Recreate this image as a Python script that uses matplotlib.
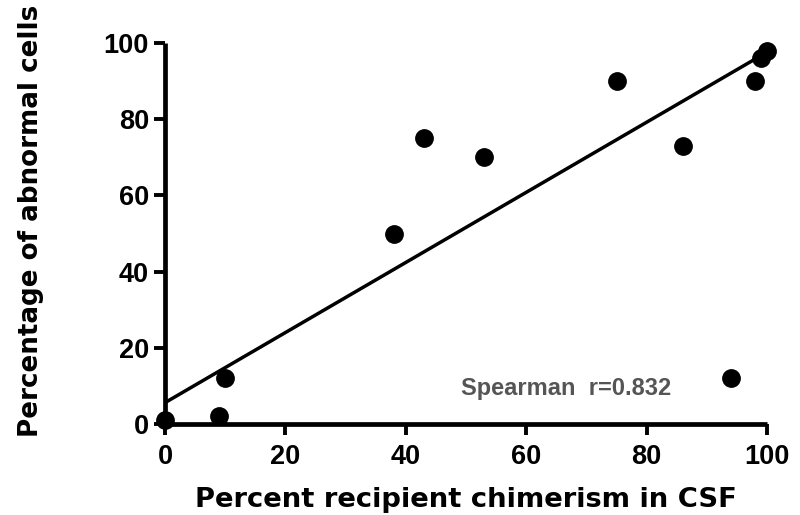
import matplotlib
matplotlib.use("Agg")
import matplotlib.pyplot as plt
import numpy as np

chimerism = [0, 9, 10, 38, 43, 53, 75, 86, 94, 98, 99, 100]
abnormal = [1, 2, 12, 50, 75, 70, 90, 73, 12, 90, 96, 98]
fit_intercept = 5.6
fit_slope = 0.92
xticks = [0, 20, 40, 60, 80, 100]
yticks = [0, 20, 40, 60, 80, 100]
annotation = "Spearman  r=0.832"

plt.rcParams['font.family'] = ['Liberation Sans', 'DejaVu Sans']

fig = plt.figure(figsize=(8, 5.15), dpi=100)
ax = fig.add_axes([165/800, 1 - 424/515, 602/800, 381/515])

xfit = np.array([0, 100])
ax.plot(xfit, fit_intercept + fit_slope * xfit, color='black', lw=2.5, zorder=2)
ax.plot(chimerism, abnormal, 'o', color='black', ms=12.5, clip_on=False, zorder=3)

ax.set_xlim(0, 100)
ax.set_ylim(0, 100)
ax.set_xticks(xticks)
ax.set_yticks(yticks)
for s in ['top', 'right']:
    ax.spines[s].set_visible(False)
for s in ['left', 'bottom']:
    ax.spines[s].set_linewidth(3.4)
    ax.spines[s].set_capstyle('butt')
ax.tick_params(direction='out', length=8, width=2.8, pad=3.5, labelsize=19.5)
ax.tick_params(axis='x', pad=6.5)
for lab in ax.get_xticklabels() + ax.get_yticklabels():
    lab.set_fontweight('bold')

ax.set_xlabel("Percent recipient chimerism in CSF", labelpad=12,
              family=['DejaVu Sans'], fontsize=19.7, fontweight='bold')
ax.set_ylabel("Percentage of abnormal cells",
              family=['DejaVu Sans'], fontsize=18.8, fontweight='bold')
ax.yaxis.set_label_coords(-0.201, 0.532)

ax.text(49.2, 9.4, annotation, fontsize=17, fontweight='bold', color='#555555', va='center', ha='left')

fig.savefig("out.png", dpi=100)
